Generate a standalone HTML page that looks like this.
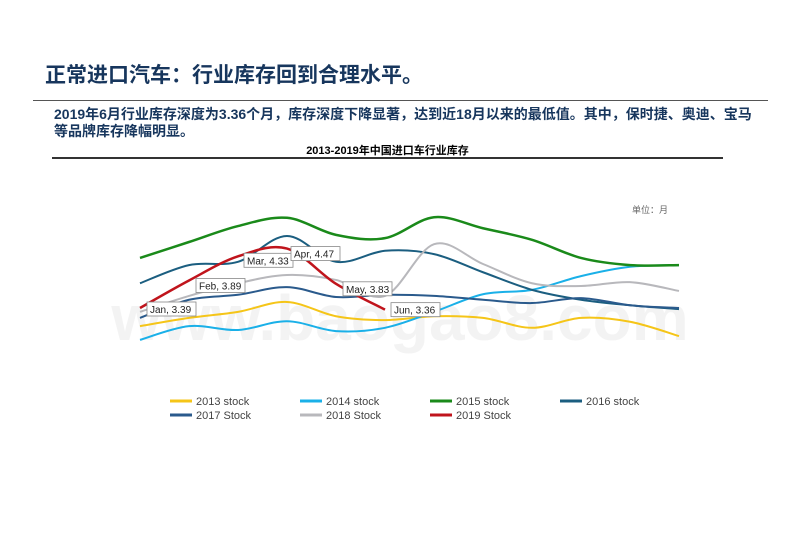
<!DOCTYPE html>
<html><head><meta charset="utf-8"><style>
body{margin:0;width:800px;height:553px;background:#fff;overflow:hidden;position:relative;font-family:"Liberation Sans","Noto Sans CJK SC",sans-serif}
.abs{position:absolute;margin:0}
</style></head><body>
<h1 class="abs" style="left:45px;top:59px;font-size:21px;font-weight:bold;color:#17365d;letter-spacing:0px">正常进口汽车：行业库存回到合理水平。</h1>
<div class="abs" style="left:33px;top:100px;width:735px;height:1px;background:#555"></div>
<p class="abs" style="left:54px;top:106px;width:700px;font-size:14px;line-height:17px;font-weight:bold;color:#17365d">2019年6月行业库存深度为3.36个月，库存深度下降显著，达到近18月以来的最低值。其中，保时捷、奥迪、宝马等品牌库存降幅明显。</p>
<div class="abs" style="left:52px;width:671px;top:142px;text-align:center;font-size:11px;font-weight:bold;color:#000">2013-2019年中国进口车行业库存</div>
<div class="abs" style="left:52px;top:157px;width:671px;height:2px;background:#333"></div>
<svg class="abs" style="left:0;top:0" width="800" height="553">
<text x="632" y="213" font-size="9" fill="#666">单位：月</text>
<text x="400" y="340" text-anchor="middle" font-size="64" font-weight="bold" fill="#e6e6e6" opacity="0.45">www.baogao8.com</text>
<g id="lines"></g><g id="labels"></g>
</svg>
<script>
const months=["Jan","Feb","Mar","Apr","May","Jun","Jul","Aug","Sep","Oct","Nov","Dec"];
const s2013=[3.06,3.21,3.32,3.50,3.24,3.17,3.24,3.21,3.03,3.21,3.14,2.88];
const s2014=[2.81,3.06,2.99,3.15,2.97,3.03,3.32,3.64,3.72,3.97,4.14,4.17];
const s2015=[4.30,4.59,4.88,5.03,4.72,4.66,5.04,4.84,4.63,4.30,4.17,4.17];
const s2016=[3.84,4.17,4.23,4.70,4.23,4.43,4.37,4.04,3.72,3.54,3.44,3.37];
const s2017=[3.21,3.54,3.63,3.77,3.59,3.63,3.61,3.54,3.48,3.57,3.44,3.39];
const s2018=[3.32,3.61,3.84,3.99,3.90,3.61,4.55,4.19,3.84,3.79,3.86,3.70];
const s2019=[3.39,3.89,4.33,4.47,3.83,3.36];
const seriesNames=["2013 stock","2014 stock","2015 stock","2016 stock","2017 Stock","2018 Stock","2019 Stock"];
const NS="http://www.w3.org/2000/svg";
const xs=i=>140+i*49;
const ys=v=>308-(v-3.39)*55;
const colors=["#f5c518","#1ab0e8","#1a8a1a","#1b5e80","#2a5a8c","#b8b8bc","#c0141c"];
const data=[s2013,s2014,s2015,s2016,s2017,s2018,s2019];
function path(vals){const p=vals.map((v,i)=>[xs(i),ys(v)]);let d="M"+p[0][0]+","+p[0][1];
for(let i=0;i<p.length-1;i++){const a=p[i-1]||p[i],b=p[i],c=p[i+1],e=p[i+2]||c;
d+=" C"+(b[0]+(c[0]-a[0])/6)+","+(b[1]+(c[1]-a[1])/6)+" "+(c[0]-(e[0]-b[0])/6)+","+(c[1]-(e[1]-b[1])/6)+" "+c[0]+","+c[1];}return d;}
const g=document.getElementById("lines");
data.forEach((vals,k)=>{const el=document.createElementNS(NS,"path");el.setAttribute("d",path(vals));el.setAttribute("fill","none");el.setAttribute("stroke",colors[k]);el.setAttribute("stroke-width",(k==2||k==6)?2.5:2);


g.appendChild(el);});
const lg=document.getElementById("labels");
const offs=[[7,1],[7,5],[6,4],[4,5],[7,5],[6,0]];
s2019.forEach((v,i)=>{const t=months[i]+", "+v.toFixed(2);const x=xs(i)+offs[i][0],y=ys(v)+offs[i][1];const w=49;
const r=document.createElementNS(NS,"rect");r.setAttribute("x",x);r.setAttribute("y",y-7);r.setAttribute("width",w);r.setAttribute("height",14);r.setAttribute("fill","#fff");r.setAttribute("stroke","#888");r.setAttribute("stroke-width","0.8");


lg.appendChild(r);
const tx=document.createElementNS(NS,"text");tx.setAttribute("x",x+3);tx.setAttribute("y",y+4);tx.setAttribute("font-size","10");tx.setAttribute("fill","#222");tx.textContent=t;


lg.appendChild(tx);});
const svg=document.querySelector("svg");
seriesNames.forEach((n,k)=>{const col=k<4?k:k-4,row=k<4?0:1;const x=170+col*130,y=401+row*14;
const l=document.createElementNS(NS,"line");l.setAttribute("x1",x);l.setAttribute("x2",x+22);l.setAttribute("y1",y);l.setAttribute("y2",y);l.setAttribute("stroke",colors[k]);l.setAttribute("stroke-width","3");


svg.appendChild(l);
const t=document.createElementNS(NS,"text");t.setAttribute("x",x+26);t.setAttribute("y",y+4);t.setAttribute("font-size","11");t.setAttribute("fill","#444");t.textContent=n;


svg.appendChild(t);});
</script>
</body></html>
